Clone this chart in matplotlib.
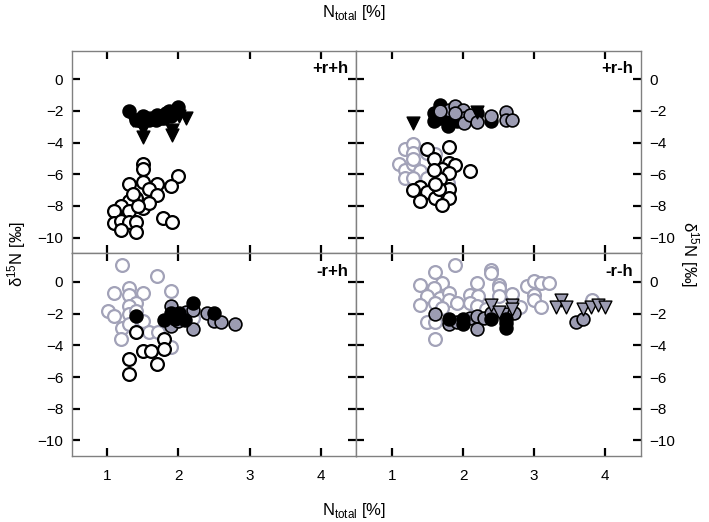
import matplotlib.pyplot as plt

plt.rcParams['font.family'] = ['Liberation Sans', 'DejaVu Sans']

## values (N_total %, d15N permil)
## panel +r+h (top left)
rh_black_x = [1.30, 1.41, 1.50, 1.48, 1.59, 1.70, 1.76, 1.83, 1.90, 1.94, 2.00, 1.69, 1.80, 1.87]
rh_black_y = [-2.03, -2.60, -2.30, -2.66, -2.55, -2.24, -2.45, -2.13, -2.34, -2.03, -1.76, -2.55, -2.45, -2.03]
rh_tri_x = [1.50, 1.50, 1.91, 1.91, 2.11, 2.01, 1.36, 1.62]
rh_tri_y = [-3.64, -3.15, -3.50, -3.18, -2.45, -2.34, -2.55, -2.45]
rh_open_x = [1.50, 1.50, 1.30, 1.50, 1.70, 1.59, 1.70, 2.00, 1.90, 1.41, 1.31, 1.50, 1.59, 1.20,
             1.09, 1.30, 1.09, 1.20, 1.31, 1.41, 1.20, 1.41, 1.79, 1.91, 1.43, 1.36]
rh_open_y = [-5.38, -5.69, -6.63, -6.49, -6.63, -6.95, -7.32, -6.11, -6.74, -7.53, -7.68, -8.16, -7.82, -7.99,
             -8.35, -8.35, -9.08, -8.93, -9.04, -9.04, -9.52, -9.62, -8.79, -9.04, -7.99, -7.26]

## panel +r-h (top right)
rmh_black_x = [1.68, 1.59, 1.59, 1.68, 1.79, 1.79, 1.92, 2.20, 2.40, 2.01]
rmh_black_y = [-1.61, -2.13, -2.66, -2.45, -2.13, -2.93, -2.66, -2.13, -2.66, -2.66]
rmh_grey_x = [1.80, 1.89, 2.00, 2.01, 2.01, 2.10, 2.20, 2.40, 2.60, 2.60, 2.69, 1.68, 1.89]
rmh_grey_y = [-1.92, -1.67, -1.97, -2.45, -2.76, -2.24, -2.72, -2.34, -2.09, -2.59, -2.59, -2.03, -2.13]
rmh_tri_x = [1.30, 2.20]
rmh_tri_y = [-2.76, -2.09]
rmh_open_x = [1.49, 1.80, 1.59, 1.80, 1.89, 1.71, 1.81, 2.10, 1.68, 1.59, 1.40, 1.30, 1.50, 1.60,
              1.80, 1.80, 1.40, 1.71, 1.66, 1.60]
rmh_open_y = [-4.39, -4.29, -5.06, -5.31, -5.44, -5.69, -5.90, -5.79, -6.32, -5.73, -6.78, -6.99, -7.11, -7.53,
              -6.95, -7.47, -7.68, -7.95, -6.95, -6.63]
rmh_gopen_x = [1.19, 1.30, 1.30, 1.10, 1.19, 1.30, 1.40, 1.19, 1.30, 1.49, 1.49, 1.60, 1.30, 1.79]
rmh_gopen_y = [-4.39, -4.08, -4.64, -5.38, -5.73, -5.38, -5.79, -6.21, -6.21, -6.21, -4.64, -4.75, -5.06, -6.57]

## panel -r+h (bottom left)
mrh_gopen_x = [1.21, 1.70, 1.10, 1.30, 1.30, 1.50, 1.90, 1.40, 1.30, 1.01, 1.10, 1.30, 1.50, 1.21,
               1.30, 1.20, 1.59, 1.71, 1.90, 2.20, 1.40]
mrh_gopen_y = [1.05, 0.36, -0.69, -0.38, -0.80, -0.69, -0.59, -1.36, -1.49, -1.84, -2.16, -2.05, -2.47, -2.89,
               -2.68, -3.58, -3.17, -3.17, -4.09, -2.26, -1.84]
mrh_open_x = [1.40, 1.80, 1.50, 1.61, 1.80, 1.30, 1.70, 1.30]
mrh_open_y = [-3.17, -3.58, -4.36, -4.36, -4.26, -4.84, -5.20, -5.79]
mrh_grey_x = [1.90, 1.90, 2.11, 2.20, 2.20, 2.40, 2.50, 2.60, 2.79, 2.00]
mrh_grey_y = [-1.53, -2.75, -1.91, -2.96, -1.74, -1.95, -2.47, -2.54, -2.68, -2.47]
mrh_black_x = [1.40, 1.80, 1.90, 2.01, 2.09, 2.20, 2.50, 1.95]
mrh_black_y = [-2.16, -2.41, -1.99, -1.99, -2.41, -1.36, -1.95, -2.37]

## panel -r-h (bottom right)
mrmh_gopen_x = [1.89, 1.60, 1.40, 1.71, 1.59, 1.50, 1.68, 1.80, 1.80, 1.91, 1.40, 1.60, 1.71, 1.49,
                1.60, 1.60, 2.20, 2.10, 2.21, 2.10, 2.20, 2.40, 2.40, 2.51, 2.51, 2.51, 2.69, 2.80,
                2.90, 3.00, 3.10, 3.21, 3.00, 3.00, 3.10, 3.81, 2.32]
mrmh_gopen_y = [1.05, 0.61, -0.17, -0.06, -0.38, -0.86, -1.01, -0.69, -1.11, -1.32, -1.43, -1.32, -1.64, -2.54,
                -2.54, -3.58, -0.06, -0.80, -0.86, -1.32, -1.53, 0.78, 0.57, -0.17, -0.38, -0.86, -0.73, -1.57,
                -0.23, 0.04, -0.06, -0.06, -0.80, -1.11, -1.57, -1.11, -1.70]
mrmh_grey_x = [1.60, 1.80, 1.91, 2.10, 2.20, 2.20, 2.29, 2.40, 2.60, 2.71, 3.59, 3.69]
mrmh_grey_y = [-2.05, -2.68, -2.54, -2.26, -2.12, -2.96, -2.26, -1.95, -2.05, -1.99, -2.54, -2.33]
mrmh_black_x = [1.80, 2.00, 2.00, 2.40, 2.60, 2.60, 2.60]
mrmh_black_y = [-2.37, -2.37, -2.68, -2.37, -2.37, -2.89, -2.62]
mrmh_tri_x = [2.40, 2.51, 2.69, 2.69, 3.37, 3.30, 3.44, 3.69, 3.80, 3.90, 4.00]
mrmh_tri_y = [-1.43, -1.91, -1.43, -1.70, -1.11, -1.57, -1.57, -1.70, -1.57, -1.43, -1.57]

x_ticks = [1, 2, 3, 4]
y_ticks = [0, -2, -4, -6, -8, -10]
panel_labels = [["+r+h", "+r-h"], ["-r+h", "-r-h"]]

GREY_FILL = '#9c9cb2'
GREY_EDGE = '#a2a2b8'
MS = 85

## little helpers for the marker kinds used in the figure
def open_c(ax, x, y):
    ax.scatter(x, y, s=MS, facecolor='white', edgecolor='black', linewidth=1.6, zorder=3)

def grey_open(ax, x, y):
    ax.scatter(x, y, s=MS, facecolor='white', edgecolor=GREY_EDGE, linewidth=1.6, zorder=3)

def grey_c(ax, x, y):
    ax.scatter(x, y, s=MS, facecolor=GREY_FILL, edgecolor='black', linewidth=1.2, zorder=4)

def black_c(ax, x, y):
    ax.scatter(x, y, s=MS, facecolor='black', edgecolor='black', linewidth=1.2, zorder=4)

def black_tri(ax, x, y):
    ax.scatter(x, y, s=MS, marker='v', facecolor='black', edgecolor='black', linewidth=1.0, zorder=5)

def grey_tri(ax, x, y):
    ax.scatter(x, y, s=MS, marker='v', facecolor=GREY_FILL, edgecolor='black', linewidth=1.0, zorder=5)


fig = plt.figure(figsize=(7.09, 5.22), dpi=100)
gs = fig.add_gridspec(2, 2, left=0.101, right=0.904, top=0.903, bottom=0.126, hspace=0, wspace=0)
axes = [[fig.add_subplot(gs[r, c]) for c in range(2)] for r in range(2)]

ax = axes[0][0]
open_c(ax, rh_open_x, rh_open_y)
black_c(ax, rh_black_x, rh_black_y)
black_tri(ax, rh_tri_x, rh_tri_y)

ax = axes[0][1]
grey_open(ax, rmh_gopen_x, rmh_gopen_y)
open_c(ax, rmh_open_x, rmh_open_y)
black_c(ax, rmh_black_x, rmh_black_y)
grey_c(ax, rmh_grey_x, rmh_grey_y)
black_tri(ax, rmh_tri_x, rmh_tri_y)

ax = axes[1][0]
grey_open(ax, mrh_gopen_x, mrh_gopen_y)
open_c(ax, mrh_open_x, mrh_open_y)
grey_c(ax, mrh_grey_x, mrh_grey_y)
black_c(ax, mrh_black_x, mrh_black_y)

ax = axes[1][1]
grey_open(ax, mrmh_gopen_x, mrmh_gopen_y)
grey_c(ax, mrmh_grey_x, mrmh_grey_y)
black_c(ax, mrmh_black_x, mrmh_black_y)
grey_tri(ax, mrmh_tri_x, mrmh_tri_y)

for r in range(2):
    for c in range(2):
        ax = axes[r][c]
        ax.set_xlim(0.5, 4.5)
        ax.set_ylim(-11, 1.8)
        ax.set_xticks(x_ticks)
        ax.set_yticks(y_ticks)
        for sp in ax.spines.values():
            sp.set_color('#808080')
            sp.set_linewidth(1.0)
        ## ticks point inward on every side, labels only on the outer sides
        ax.tick_params(direction='in', length=6, width=1.6, color='black',
                       top=True, bottom=True, left=True, right=True,
                       labelsize=11, labelcolor='black',
                       labelbottom=(r == 1), labeltop=False,
                       labelleft=(c == 0), labelright=(c == 1))
        ax.tick_params(axis='y', pad=6)
        ax.tick_params(axis='x', pad=9)
        ax.text(0.972, 0.95, panel_labels[r][c], transform=ax.transAxes, ha='right', va='top',
                fontsize=12, fontweight='bold')

fig.text(0.500, 0.968, r'N$_{\mathregular{total}}$ [%]', ha='center', va='baseline', fontsize=12)
fig.text(0.500, 0.014, r'N$_{\mathregular{total}}$ [%]', ha='center', va='baseline', fontsize=12)
fig.text(0.023, 0.513, r'$\mathregular{\delta^{15}}$N [‰]', rotation=90, ha='center', va='center', fontsize=12)
fig.text(0.973, 0.513, r'$\mathregular{\delta^{15}}$N [‰]', rotation=270, ha='center', va='center', fontsize=12)

fig.savefig('out.png', dpi=100)
